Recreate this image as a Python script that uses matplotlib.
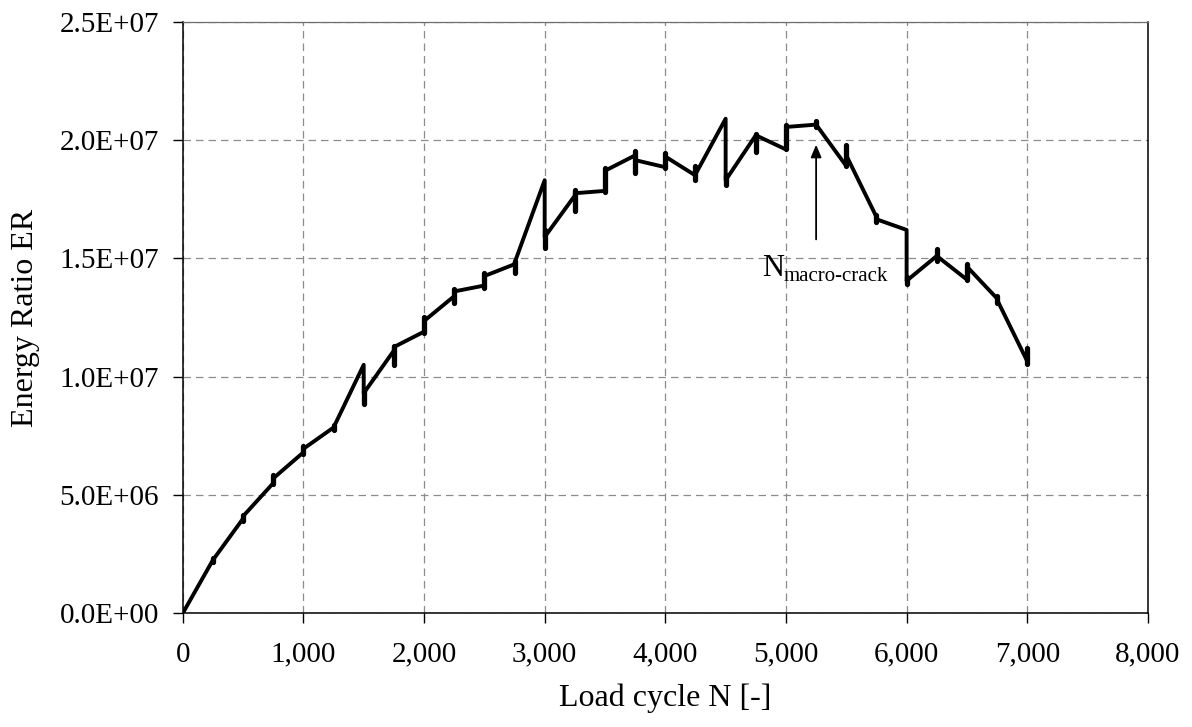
import matplotlib.pyplot as plt
import numpy as np
from matplotlib.ticker import FuncFormatter, MultipleLocator

plt.rcParams["font.family"] = ["Liberation Serif", "DejaVu Serif"]

# cycle count where readings were taken (every 250 cycles)
cycles = [0, 250, 500, 750, 1000, 1250, 1500, 1750, 2000, 2250, 2500, 2750,
          3000, 3250, 3500, 3750, 4000, 4250, 4500, 4750, 5000, 5250, 5500,
          5750, 6000, 6250, 6500, 6750, 7000]
# energy ratio arriving at / leaving each reading
er_in = [0, 2.25e6, 4.0e6, 5.5e6, 6.8e6, 7.85e6, 1.05e7, 1.11e7, 1.19e7,
         1.34e7, 1.385e7, 1.475e7, 1.83e7, 1.765e7, 1.785e7, 1.935e7,
         1.885e7, 1.85e7, 2.09e7, 2.02e7, 1.96e7, 2.065e7, 1.89e7, 1.675e7,
         1.62e7, 1.51e7, 1.41e7, 1.33e7, 1.065e7]
er_out = [0, 2.25e6, 4.1e6, 5.7e6, 6.95e6, 7.85e6, 9.3e6, 1.125e7, 1.235e7,
          1.36e7, 1.425e7, 1.48e7, 1.59e7, 1.775e7, 1.87e7, 1.915e7, 1.93e7,
          1.855e7, 1.83e7, 2.02e7, 2.055e7, 2.065e7, 1.935e7, 1.665e7,
          1.405e7, 1.51e7, 1.465e7, 1.325e7, 1.065e7]
# scatter of readings at each step
bar_lo = [0, 2.15e6, 3.9e6, 5.45e6, 6.75e6, 7.75e6, 8.85e6, 1.05e7, 1.185e7,
          1.31e7, 1.375e7, 1.44e7, 1.545e7, 1.70e7, 1.78e7, 1.86e7, 1.88e7,
          1.83e7, 1.81e7, 1.95e7, 1.96e7, 2.055e7, 1.89e7, 1.655e7, 1.39e7,
          1.49e7, 1.41e7, 1.31e7, 1.055e7]
bar_hi = [0, 2.35e6, 4.15e6, 5.85e6, 7.05e6, 7.95e6, 9.4e6, 1.13e7, 1.25e7,
          1.37e7, 1.44e7, 1.49e7, 1.62e7, 1.79e7, 1.88e7, 1.955e7, 1.945e7,
          1.89e7, 1.85e7, 2.025e7, 2.065e7, 2.08e7, 1.98e7, 1.685e7, 1.42e7,
          1.54e7, 1.475e7, 1.34e7, 1.12e7]

crack_n = 5250
arrow_tip = 1.98e7
arrow_tail = 1.58e7

x_path = np.repeat(cycles, 2)
y_path = np.column_stack([er_in, er_out]).ravel()

fig = plt.figure(figsize=(11.92, 7.27), dpi=100)
ax = fig.add_axes([0.1533, 0.1564, 0.8097, 0.8138])

ax.plot(x_path, y_path, color="black", lw=2.8, solid_joinstyle="round",
        solid_capstyle="round", zorder=3)
ax.vlines(cycles[1:], bar_lo[1:], bar_hi[1:], color="black", lw=3.8,
          zorder=3, capstyle="round")

# macro-crack marker
ax.annotate("", xy=(crack_n, arrow_tip), xytext=(crack_n, arrow_tail),
            arrowprops=dict(arrowstyle="-|>,head_length=0.75,head_width=0.32",
                            color="black", lw=1.3, shrinkA=0, shrinkB=0),
            zorder=4)
ax.text(4800, 1.425e7, "N", fontsize=22, ha="left", va="baseline")
ax.text(4980, 1.405e7, "macro-crack", fontsize=15, ha="left", va="baseline")

ax.set_xlim(0, 8000)
ax.set_ylim(0, 2.5e7)
ax.xaxis.set_major_locator(MultipleLocator(1000))
ax.yaxis.set_major_locator(MultipleLocator(5e6))
ax.xaxis.set_major_formatter(FuncFormatter(lambda v, p: f"{int(v):,}"))
ax.yaxis.set_major_formatter(FuncFormatter(lambda v, p: f"{v:.1E}"))

ax.grid(True, color="#8c8c8c", lw=0.9, linestyle=(0, (6, 4)))
ax.set_axisbelow(True)

for side in ["left", "bottom", "right"]:
    ax.spines[side].set_color("black")
    ax.spines[side].set_linewidth(1.1)
ax.spines["top"].set_color("#6e6e6e")
ax.spines["top"].set_linewidth(0.9)

ax.tick_params(axis="both", direction="out", length=7, width=1.0,
               labelsize=21, colors="black")
ax.tick_params(axis="y", pad=10)
ax.tick_params(axis="x", pad=13.5)

ax.set_xlabel("Load cycle N [-]", fontsize=23, labelpad=11)
ax.set_ylabel("Energy Ratio ER", fontsize=23, labelpad=14)

plt.savefig("out.png", dpi=100)
